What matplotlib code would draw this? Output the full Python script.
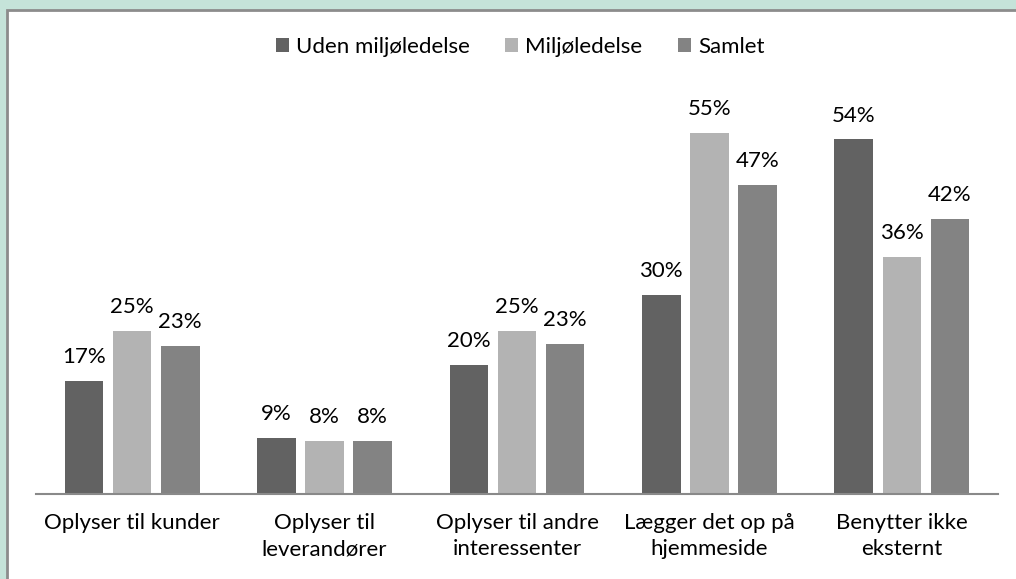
import matplotlib.pyplot as plt
import numpy as np
from matplotlib.patches import Rectangle

plt.rcParams['font.family'] = ['Lato', 'DejaVu Sans']

categories = ['Oplyser til kunder', 'Oplyser til\nleverandører', 'Oplyser til andre\ninteressenter',
              'Lægger det op på\nhjemmeside', 'Benytter ikke\neksternt']
uden = [17.2, 8.6, 19.6, 30.3, 54.0]
milj = [24.8, 8.1, 24.8, 55.0, 36.1]
samlet = [22.6, 8.1, 22.9, 47.0, 41.9]
series = ['Uden miljøledelse', 'Miljøledelse', 'Samlet']
colors = ['#626262', '#B3B3B3', '#838383']

fig = plt.figure(figsize=(10.16, 5.79), dpi=100)
fig.patch.set_facecolor('#C5E3D9')
# white panel with grey edge on left/top
fig.patches.append(Rectangle((7 / 1016, -0.1), 1.1, 1.1 - 10 / 579, transform=fig.transFigure,
                             facecolor='white', edgecolor='#8C8C8C', linewidth=2, zorder=-10))

ax = fig.add_axes([36 / 1016, 1 - 494 / 579, 962 / 1016, 394 / 579])
ax.set_facecolor('none')

x = np.arange(len(categories))
w = 0.2
step = 0.25
for i, (vals, name, c) in enumerate(zip([uden, milj, samlet], series, colors)):
    bars = ax.bar(x + (i - 1) * step, vals, w, color=c, label=name)
    for b, v in zip(bars, vals):
        ax.annotate('%.0f%%' % v, (b.get_x() + b.get_width() / 2, v), xytext=(0, 10),
                    textcoords='offset points', ha='center', va='bottom', fontsize=16)

ax.set_xlim(-0.5, 4.5)
ax.set_ylim(0, 60)
ax.set_yticks([])
ax.set_xticks(x)
ax.set_xticklabels(categories, fontsize=16, linespacing=1.35)
ax.tick_params(axis='x', length=0, pad=14)
for s in ['top', 'right', 'left']:
    ax.spines[s].set_visible(False)
ax.spines['bottom'].set_color('#898989')
ax.spines['bottom'].set_linewidth(1.5)

fig.legend(loc='center', bbox_to_anchor=(520 / 1016, 1 - 47 / 579), ncol=3, frameon=False,
           fontsize=16, handlelength=0.6, handleheight=0.6, handletextpad=0.3, columnspacing=1.6)

fig.savefig('out.png', dpi=100, facecolor=fig.get_facecolor())
